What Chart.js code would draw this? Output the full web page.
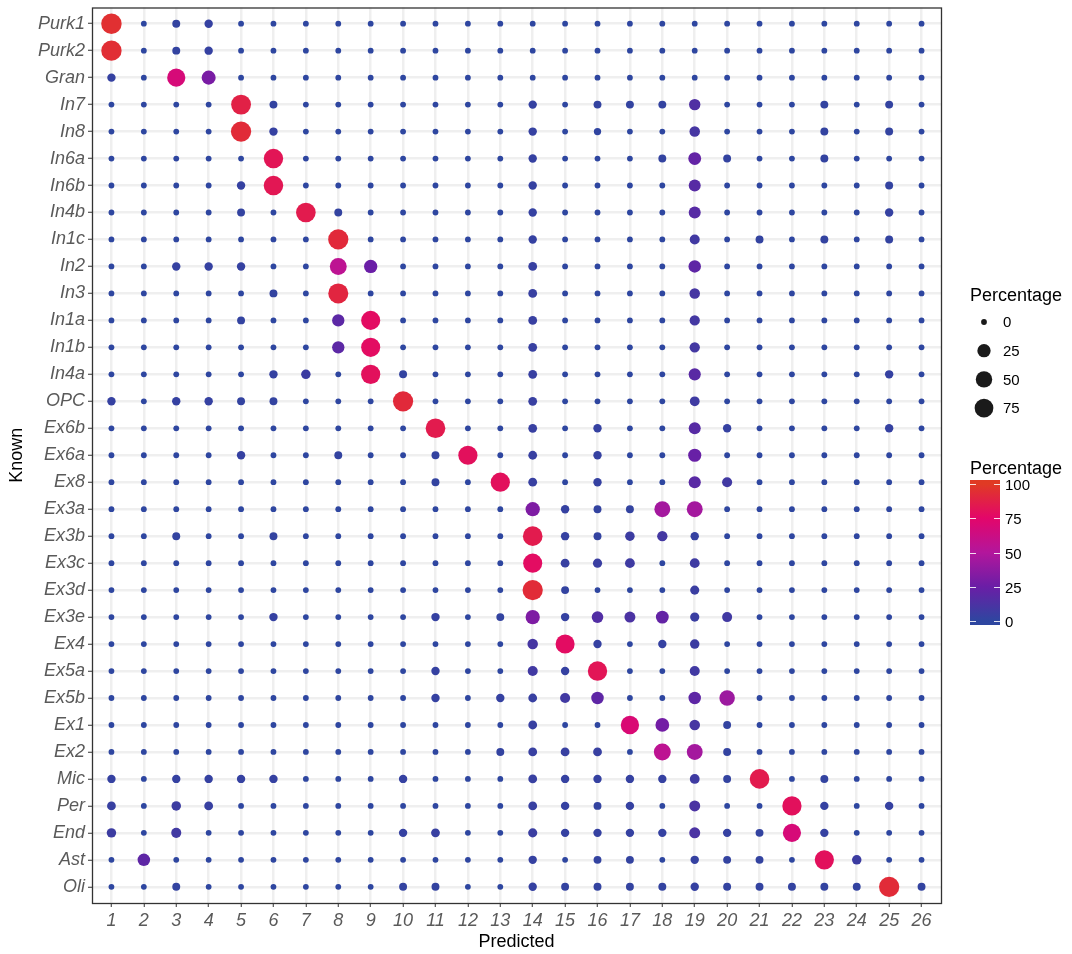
<!DOCTYPE html>
<html>
<head>
<meta charset="utf-8">
<script src="https://cdn.jsdelivr.net/npm/chart.js@4/dist/chart.umd.min.js"></script>
<style>
    html, body { margin: 0; padding: 0; background: #fff; }
</style>
</head>
<body>
<canvas id="dotChart" width="1072" height="954"></canvas>
<script>
// Axis categories
const predicted = ['1','2','3','4','5','6','7','8','9','10','11','12','13','14','15','16','17','18','19','20','21','22','23','24','25','26'];
const known = ['Purk1','Purk2','Gran','In7','In8','In6a','In6b','In4b','In1c','In2','In3','In1a','In1b','In4a','OPC',
    'Ex6b','Ex6a','Ex8','Ex3a','Ex3b','Ex3c','Ex3d','Ex3e','Ex4','Ex5a','Ex5b','Ex1','Ex2','Mic','Per','End','Ast','Oli'];

// Percentage per known row, one value per predicted cluster (1..26)
const percentages = [
    [95,0,2,3,0,0,0,0,0,0,0,0,0,0,0,0,0,0,0,0,0,0,0,0,0,0],   // Purk1
    [94,0,2,3,0,0,0,0,0,0,0,0,0,0,0,0,0,0,0,0,0,0,0,0,0,0],   // Purk2
    [3,0,68,30,0,0,0,0,0,0,0,0,0,0,0,0,0,0,0,0,0,0,0,0,0,0],  // Gran
    [0,0,0,0,88,2,0,0,0,0,0,0,0,3,0,2,2,2,14,0,0,0,2,0,2,0],  // In7
    [0,0,0,0,93,3,0,0,0,0,0,0,0,3,0,1,0,0,10,0,0,0,2,0,2,0],  // In8
    [0,0,0,0,0,82,0,0,0,0,0,0,0,3,0,0,0,2,22,2,0,0,2,0,0,0],  // In6a
    [0,0,0,0,3,83,0,0,0,0,0,0,0,3,0,0,0,0,17,0,0,0,0,0,2,0],  // In6b
    [0,0,0,0,2,0,85,2,0,0,0,0,0,3,0,0,0,0,17,0,0,0,0,0,3,0],  // In4b
    [0,0,0,0,0,0,0,92,0,0,0,0,0,3,0,0,0,0,8,0,2,0,2,0,2,0],   // In1c
    [0,0,3,3,3,0,0,55,25,0,0,0,0,4,0,0,0,0,20,0,0,0,0,0,0,0], // In2
    [0,0,0,0,0,2,0,90,0,0,0,0,0,4,0,0,0,0,10,0,0,0,0,0,0,0],  // In3
    [0,0,0,0,2,0,0,19,78,0,0,0,0,4,0,0,0,0,9,0,0,0,0,0,0,0],  // In1a
    [0,0,0,0,0,0,0,19,78,0,0,0,0,4,0,0,0,0,9,0,0,0,0,0,0,0],  // In1b
    [0,0,0,0,0,3,6,0,80,2,0,0,0,4,0,0,0,0,18,0,0,0,0,0,3,0],  // In4a
    [3,0,3,3,2,2,0,0,0,92,0,0,0,4,0,0,0,0,7,0,0,0,0,0,0,0],   // OPC
    [0,0,0,0,0,0,0,0,0,0,85,0,0,4,0,3,0,0,17,3,0,0,0,0,3,0],  // Ex6b
    [0,0,0,0,3,0,0,2,0,0,2,80,0,4,0,3,0,0,24,0,0,0,0,0,0,0],  // Ex6a
    [0,0,0,0,0,0,0,0,0,0,2,0,80,4,0,3,0,0,18,8,0,0,0,0,0,0],  // Ex8
    [0,0,0,0,0,0,0,0,0,0,0,0,0,32,3,2,2,45,45,0,0,0,0,0,0,0], // Ex3a
    [0,0,2,0,0,2,0,0,0,0,0,0,0,85,3,2,6,9,3,0,0,0,0,0,0,0],   // Ex3b
    [0,0,0,0,0,0,0,0,0,0,0,0,0,78,4,5,7,0,7,0,0,0,0,0,0,0],   // Ex3c
    [0,0,0,0,0,0,0,0,0,0,0,0,0,93,2,0,0,0,5,0,0,0,0,0,0,0],   // Ex3d
    [0,0,0,0,0,3,0,0,0,0,3,0,2,32,3,15,12,22,5,8,0,0,0,0,0,0],// Ex3e
    [0,0,0,0,0,0,0,0,0,0,0,0,0,10,78,3,0,3,6,0,0,0,0,0,0,0],  // Ex4
    [0,0,0,0,0,0,0,0,0,0,3,0,0,8,3,82,0,0,8,0,0,0,0,0,0,0],   // Ex5a
    [0,0,0,0,0,0,0,0,0,0,3,0,3,4,8,20,0,0,20,42,0,0,0,0,0,0], // Ex5b
    [0,0,0,0,0,0,0,0,0,0,0,0,0,4,0,0,70,28,10,2,0,0,0,0,0,0], // Ex1
    [0,0,0,0,0,0,0,0,0,0,0,0,2,4,4,4,0,55,45,2,0,0,0,0,0,0],  // Ex2
    [3,0,3,3,3,3,0,0,0,3,0,0,0,4,3,3,3,3,7,2,85,0,2,0,0,0],   // Mic
    [4,0,6,4,0,0,0,0,0,0,0,0,0,4,3,2,3,0,12,0,0,80,3,0,3,0],  // Per
    [6,0,8,0,0,0,0,0,0,3,4,0,0,5,3,3,3,3,12,3,2,68,3,0,0,0],  // End
    [0,20,0,0,0,0,0,0,0,0,0,0,0,3,0,2,2,0,3,2,2,0,80,6,0,0],  // Ast
    [0,0,2,0,0,0,0,0,0,2,2,0,0,3,2,2,2,2,3,2,2,2,2,2,93,2]    // Oli
];

// Legend breaks
const sizeBreaks = [0, 25, 50, 75];
const colourBreaks = [0, 25, 50, 75, 100];

// Colour scale stops (blue -> purple -> magenta -> red)
const colourStops = [
    [0, [46, 70, 160]],
    [25, [106, 30, 166]],
    [50, [179, 22, 156]],
    [75, [227, 6, 106]],
    [100, [224, 58, 36]]
];

function colourFor(v) {
    for (let i = 1; i < colourStops.length; i++) {
        const [v1, c1] = colourStops[i];
        const [v0, c0] = colourStops[i - 1];
        if (v <= v1) {
            const t = (v - v0) / (v1 - v0);
            const c = c0.map((x, k) => Math.round(x + (c1[k] - x) * t));
            return `rgb(${c[0]},${c[1]},${c[2]})`;
        }
    }
    const last = colourStops[colourStops.length - 1][1];
    return `rgb(${last[0]},${last[1]},${last[2]})`;
}

// Area-like size scale
function radiusFor(v) {
    return 2.9 + 7.5 * Math.sqrt(Math.max(v, 0) / 100);
}

const points = [];
percentages.forEach((row, r) => {
    row.forEach((v, c) => {
        points.push({ x: c + 1, y: r, v: v });
    });
});

const FONT = "'Liberation Sans', Arial, Helvetica, sans-serif";

// Draws the panel border and both "Percentage" legends
const legendPlugin = {
    id: 'ggLegend',
    afterDraw: (chart) => {
        const ctx = chart.ctx;
        const area = chart.chartArea;
        ctx.save();

        // panel border
        ctx.strokeStyle = '#333333';
        ctx.lineWidth = 1.3;
        ctx.strokeRect(area.left + 0.5, area.top + 0.5, area.right - area.left, area.bottom - area.top);

        // size legend
        ctx.fillStyle = '#000';
        ctx.font = `18px ${FONT}`;
        ctx.textBaseline = 'alphabetic';
        ctx.textAlign = 'left';
        ctx.fillText('Percentage', 970, 301);
        ctx.font = `15px ${FONT}`;
        ctx.textBaseline = 'middle';
        sizeBreaks.forEach((b, i) => {
            const y = 322 + i * 28.7;
            ctx.fillStyle = '#1A1A1A';
            ctx.beginPath();
            ctx.arc(984, y, radiusFor(b), 0, Math.PI * 2);
            ctx.fill();
            ctx.fillStyle = '#000';
            ctx.fillText(String(b), 1003, y + 1);
        });

        // colour bar
        ctx.font = `18px ${FONT}`;
        ctx.textBaseline = 'alphabetic';
        ctx.fillText('Percentage', 970, 474);
        const barTop = 480, barBottom = 625, barLeft = 970, barRight = 1000;
        const y0 = 621, y100 = 484;
        const grad = ctx.createLinearGradient(0, y0, 0, y100);
        colourStops.forEach(([v, c]) => {
            grad.addColorStop(v / 100, `rgb(${c[0]},${c[1]},${c[2]})`);
        });
        ctx.fillStyle = grad;
        ctx.fillRect(barLeft, barTop, barRight - barLeft, barBottom - barTop);

        ctx.font = `15px ${FONT}`;
        ctx.textBaseline = 'middle';
        colourBreaks.forEach((b) => {
            const y = Math.round(y0 + (y100 - y0) * b / 100) + 0.5;
            ctx.strokeStyle = 'rgba(255,255,255,0.85)';
            ctx.lineWidth = 1;
            ctx.beginPath();
            ctx.moveTo(barLeft, y); ctx.lineTo(barLeft + 6, y);
            ctx.moveTo(barRight - 6, y); ctx.lineTo(barRight, y);
            ctx.stroke();
            ctx.fillStyle = '#000';
            ctx.fillText(String(b), 1005, y + 1);
        });

        ctx.restore();
    }
};

const gridStyle = {
    color: '#EFEFEF',
    lineWidth: 2.5,
    drawTicks: true,
    tickColor: '#333333',
    tickLength: 4,
    tickWidth: 1
};

new Chart(document.getElementById('dotChart'), {
    type: 'scatter',
    data: {
        datasets: [{
            label: 'Percentage',
            data: points,
            pointRadius: (c) => radiusFor(c.raw ? c.raw.v : 0),
            pointHoverRadius: (c) => radiusFor(c.raw ? c.raw.v : 0),
            backgroundColor: (c) => colourFor(c.raw ? c.raw.v : 0),
            borderWidth: 0
        }]
    },
    options: {
        responsive: false,
        animation: false,
        layout: {
            autoPadding: false,   // point radius would otherwise push the panel down
            padding: { left: 0, top: 6, right: 131, bottom: 0 }
        },
        plugins: {
            legend: { display: false },
            tooltip: { enabled: false }
        },
        scales: {
            x: {
                type: 'linear',
                min: 0.4,
                max: 26.6,
                afterBuildTicks: (scale) => {
                    scale.ticks = predicted.map((p, i) => ({ value: i + 1 }));
                },
                afterFit: (scale) => {
                    scale.height = 51;
                },
                ticks: {
                    autoSkip: false,
                    maxRotation: 0,
                    padding: 3,
                    color: '#5A5A5A',
                    font: { family: FONT, size: 18, style: 'italic' },
                    callback: (v) => predicted[v - 1]
                },
                grid: gridStyle,
                border: { display: false },
                title: {
                    display: true,
                    text: 'Predicted',
                    color: '#000',
                    font: { family: FONT, size: 18 },
                    padding: { top: 0, bottom: 1 }
                }
            },
            y: {
                type: 'linear',
                reverse: true,
                min: -0.6,
                max: 32.6,
                afterBuildTicks: (scale) => {
                    scale.ticks = known.map((k, i) => ({ value: i }));
                },
                afterFit: (scale) => {
                    scale.width = 92;
                },
                ticks: {
                    autoSkip: false,
                    padding: 3,
                    color: '#5A5A5A',
                    font: { family: FONT, size: 18, style: 'italic', lineHeight: 0.5 },
                    callback: (v) => known[v]
                },
                grid: gridStyle,
                border: { display: false },
                title: {
                    display: true,
                    text: 'Known',
                    color: '#000',
                    font: { family: FONT, size: 18 },
                    padding: { top: 6, bottom: 0 }
                }
            }
        }
    },
    plugins: [legendPlugin]
});
</script>
</body>
</html>
